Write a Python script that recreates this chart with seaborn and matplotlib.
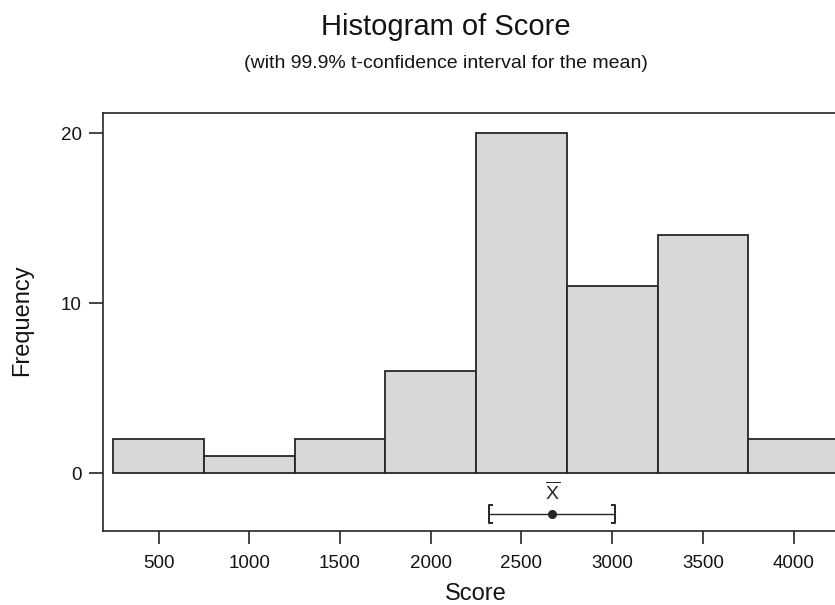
import numpy as np
import matplotlib
matplotlib.use("Agg")
import matplotlib.pyplot as plt
from matplotlib.path import Path
import seaborn as sns

# Histogram bins (midpoints, width 500) and their counts
bin_centers = [500, 1000, 1500, 2000, 2500, 3000, 3500, 4000]
bin_counts = [2, 1, 2, 6, 20, 11, 14, 2]
bin_width = 500

# 99.9% t-confidence interval for the mean
ci_mean = 2670
ci_low = 2320
ci_high = 3015

x_ticks = [500, 1000, 1500, 2000, 2500, 3000, 3500, 4000]
y_ticks = [0, 10, 20]

sns.set_theme(style="white")
plt.rcParams["font.family"] = ["Liberation Sans", "DejaVu Sans"]
plt.rcParams["mathtext.fontset"] = "custom"
plt.rcParams["mathtext.rm"] = "Liberation Sans"

ink = "#262626"
text_ink = "#141414"
fig = plt.figure(figsize=(8.35, 6.05), dpi=100)
ax = fig.add_axes([0.1237, 0.1223, 0.893, 0.691])

edges = [c - bin_width / 2 for c in bin_centers] + [bin_centers[-1] + bin_width / 2]
sns.histplot(x=bin_centers, weights=bin_counts, bins=edges, ax=ax,
             color="#d8d8d8", edgecolor=ink, linewidth=1.3, alpha=1)

# Confidence interval: line, mean dot and bracket ends
y_ci = -2.41
ax.plot([ci_low, ci_high], [y_ci, y_ci], color=ink, lw=1.0)
ax.plot([ci_mean], [y_ci], "o", color=ink, ms=5.5)
left_br = Path([(0.4, 1), (0, 1), (0, -1), (0.4, -1)],
               [Path.MOVETO, Path.LINETO, Path.LINETO, Path.LINETO])
right_br = Path([(-0.4, 1), (0, 1), (0, -1), (-0.4, -1)],
                [Path.MOVETO, Path.LINETO, Path.LINETO, Path.LINETO])
ax.plot([ci_low], [y_ci], marker=left_br, ms=13, mew=1.4, mec=ink, mfc="none")
ax.plot([ci_high], [y_ci], marker=right_br, ms=13, mew=1.4, mec=ink, mfc="none")
ax.text(ci_mean, -1.12, r"$\overline{\mathrm{X}}$", ha="center", va="center",
        fontsize=14, color=ink)

ax.set_xlim(195, 4305)
ax.set_ylim(-3.41, 21.18)
ax.set_xticks(x_ticks)
ax.set_yticks(y_ticks)
ax.set_xlabel("")
ax.set_ylabel("")
ax.tick_params(axis="x", direction="out", length=9.5, width=1.2, pad=8,
               labelsize=13.5, colors=ink, labelcolor=text_ink, bottom=True)
ax.tick_params(axis="y", direction="out", length=10, width=1.2, pad=5.5,
               labelsize=13.5, colors=ink, labelcolor=text_ink, left=True)
for side in ax.spines.values():
    side.set_visible(True)
    side.set_color(ink)
    side.set_linewidth(1.2)

fig.text(0.5335, 0.942, "Histogram of Score", ha="center", va="baseline",
         fontsize=21, color=text_ink)
fig.text(0.5335, 0.8876, "(with 99.9% t-confidence interval for the mean)",
         ha="center", va="baseline", fontsize=14, color=text_ink)
fig.text(0.570, 0.008, "Score", ha="center", va="baseline",
         fontsize=17, color=text_ink)
fig.text(0.027, 0.471, "Frequency", ha="center", va="center", rotation=90,
         fontsize=17, color=text_ink)

fig.savefig("out.png", dpi=100, facecolor="white")
